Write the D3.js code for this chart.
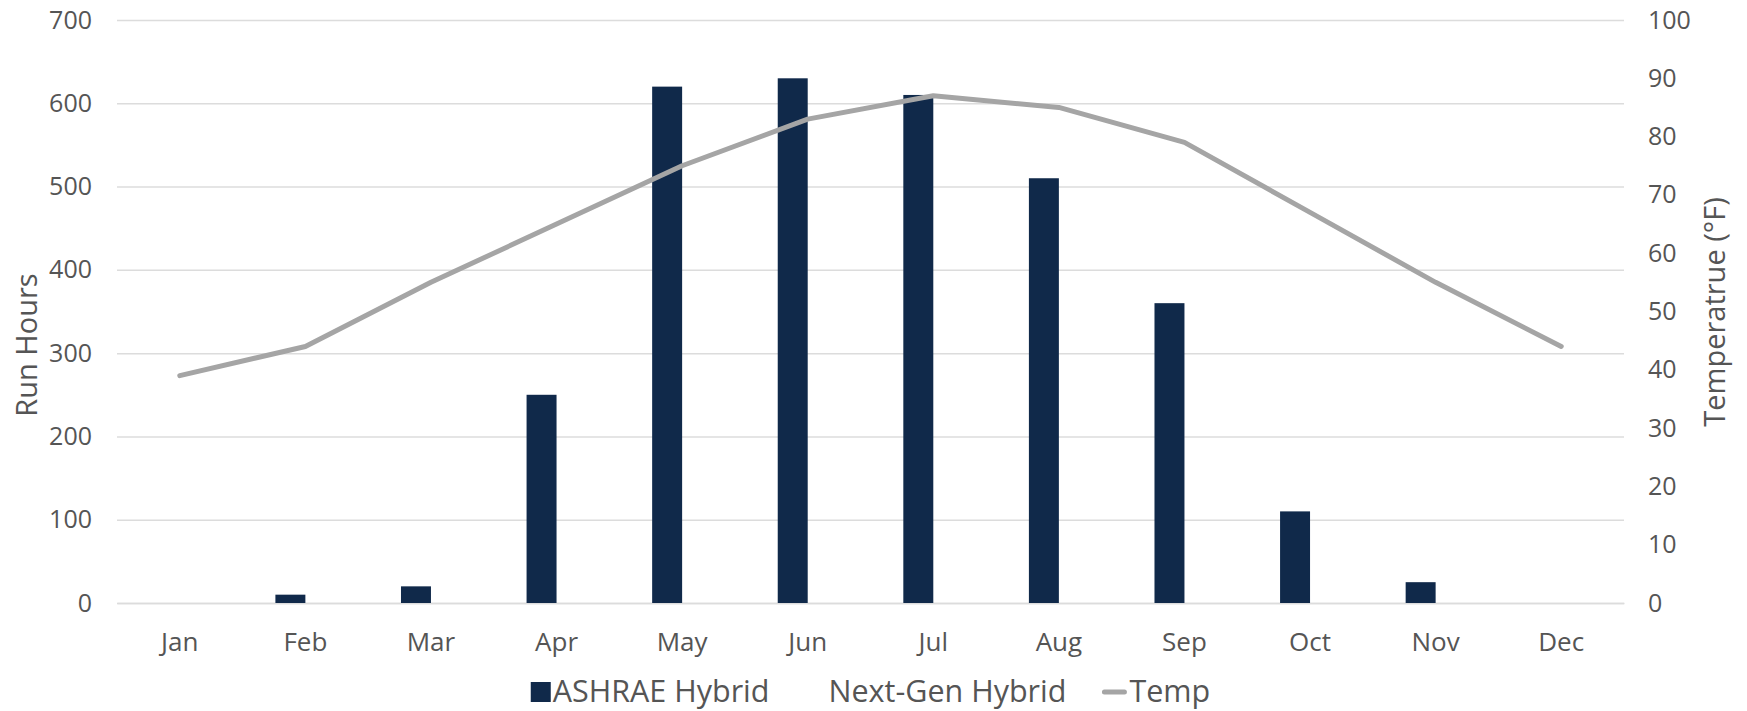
<!DOCTYPE html>
<html>
<head>
<meta charset="utf-8">
<script src="https://cdn.jsdelivr.net/npm/d3@7"></script>
<style>
  html, body { margin: 0; padding: 0; background: #ffffff; }
  svg { display: block; font-family: "Open Sans", "Liberation Sans", sans-serif; }
</style>
</head>
<body>
<svg id="chart" width="1747" height="711"></svg>
<script>
// Monthly run hours and average temperature
const months = ["Jan", "Feb", "Mar", "Apr", "May", "Jun", "Jul", "Aug", "Sep", "Oct", "Nov", "Dec"];
const ashraeHybrid = [0, 10, 20, 250, 620, 630, 610, 510, 360, 110, 25, 0];
const nextGenHybrid = [0, 0, 0, 0, 0, 0, 0, 0, 0, 0, 0, 0];
const temperature = [39, 44, 55, 65, 75, 83, 87, 85, 79, 67, 55, 44];
const runHourTicks = [0, 100, 200, 300, 400, 500, 600, 700];
const tempTicks = [0, 10, 20, 30, 40, 50, 60, 70, 80, 90, 100];
const seriesNames = ["ASHRAE Hybrid", "Next-Gen Hybrid", "Temp"];

const textColor = "#555555";
const barColor = "#10294a";
const lineColor = "#a5a5a5";
const gridColor = "#dcdcdc";

const plot = { left: 117, right: 1624, top: 20, bottom: 603 };
const gapWidth = 2.19; // space between category groups, relative to one bar

const svg = d3.select("#chart");

const x = d3.scaleBand().domain(months).range([plot.left, plot.right]).padding(0);
const bw = x.bandwidth();
const seriesKeys = ["ashrae", "nextGen"];
const x1 = d3.scaleBand().domain(seriesKeys).range([0, bw])
  .paddingInner(0).paddingOuter(gapWidth / 2);

const yLeft = d3.scaleLinear().domain([0, 700]).range([plot.bottom, plot.top]);
const yRight = d3.scaleLinear().domain([0, 100]).range([plot.bottom, plot.top]);

// Horizontal gridlines
const grid = svg.append("g")
  .attr("transform", `translate(${plot.left},0)`)
  .call(d3.axisLeft(yLeft).tickValues(runHourTicks).tickSize(-(plot.right - plot.left)).tickFormat(""));
grid.select(".domain").remove();
grid.selectAll("line").attr("stroke", gridColor).attr("stroke-width", 1.5);

// Left axis: run hours
const axL = svg.append("g")
  .attr("transform", `translate(${plot.left},0)`)
  .call(d3.axisLeft(yLeft).tickValues(runHourTicks).tickSize(0).tickPadding(25));
axL.select(".domain").remove();
axL.selectAll("text").attr("fill", textColor).style("font-size", "25px")
  .style("font-family", "'Open Sans', sans-serif");

// Right axis: temperature
const axR = svg.append("g")
  .attr("transform", `translate(${plot.right},0)`)
  .call(d3.axisRight(yRight).tickValues(tempTicks).tickSize(0).tickPadding(24));
axR.select(".domain").remove();
axR.selectAll("text").attr("fill", textColor).style("font-size", "25px")
  .style("font-family", "'Open Sans', sans-serif");

// Category axis
const axX = svg.append("g")
  .attr("transform", `translate(0,${plot.bottom})`)
  .call(d3.axisBottom(x).tickSize(0).tickPadding(30));
axX.select(".domain").attr("stroke", gridColor).attr("stroke-width", 1.5);
axX.selectAll("text").attr("fill", textColor).style("font-size", "26px")
  .style("font-family", "'Open Sans', sans-serif");

// Bars
const rows = months.map((m, i) => ({ month: m, ashrae: ashraeHybrid[i], nextGen: nextGenHybrid[i] }));
const groups = svg.append("g").selectAll("g")
  .data(rows).join("g")
  .attr("transform", d => `translate(${x(d.month)},0)`);
groups.selectAll("rect")
  .data(d => seriesKeys.map(k => ({ key: k, value: d[k] })))
  .join("rect")
  .attr("x", d => x1(d.key))
  .attr("width", x1.bandwidth())
  .attr("y", d => yLeft(d.value))
  .attr("height", d => yLeft(0) - yLeft(d.value))
  .attr("fill", d => d.key === "ashrae" ? barColor : "none");

// Temperature line
const line = d3.line()
  .x((d, i) => x(months[i]) + bw / 2)
  .y(d => yRight(d));
svg.append("path")
  .datum(temperature)
  .attr("d", line)
  .attr("fill", "none")
  .attr("stroke", lineColor)
  .attr("stroke-width", 5)
  .attr("stroke-linejoin", "round")
  .attr("stroke-linecap", "round");

// Axis titles
svg.append("text")
  .attr("transform", "translate(37,345) rotate(-90)")
  .attr("text-anchor", "middle")
  .attr("fill", textColor)
  .style("font-size", "29px")
  .text("Run Hours");
svg.append("text")
  .attr("transform", "translate(1725,312) rotate(-90)")
  .attr("text-anchor", "middle")
  .attr("fill", textColor)
  .style("font-size", "29px")
  .text("Temperatrue (°F)");

// Legend
const legend = svg.append("g");
const legendBaseline = 702;
const markerW = 20, markerGap = 2, itemGap = 37;
let cursor = 0;
seriesNames.forEach((name, i) => {
  const item = legend.append("g").attr("transform", `translate(${cursor},0)`);
  if (i === 0) {
    item.append("rect").attr("x", 0).attr("y", legendBaseline - 20)
      .attr("width", markerW).attr("height", 20).attr("fill", barColor);
  } else if (i === 2) {
    item.append("line").attr("x1", 1).attr("x2", markerW + 1)
      .attr("y1", legendBaseline - 10).attr("y2", legendBaseline - 10)
      .attr("stroke", lineColor).attr("stroke-width", 5).attr("stroke-linecap", "round");
  }
  const t = item.append("text")
    .attr("x", markerW + markerGap + (i === 2 ? 4 : 0))
    .attr("y", legendBaseline)
    .attr("fill", textColor)
    .style("font-size", "30.5px")
    .text(name);
  cursor += markerW + markerGap + (i === 2 ? 4 : 0) + t.node().getComputedTextLength() + itemGap;
});
const legendWidth = cursor - itemGap;
legend.attr("transform", `translate(${(plot.left + plot.right) / 2 - legendWidth / 2},0)`);
</script>
</body>
</html>
